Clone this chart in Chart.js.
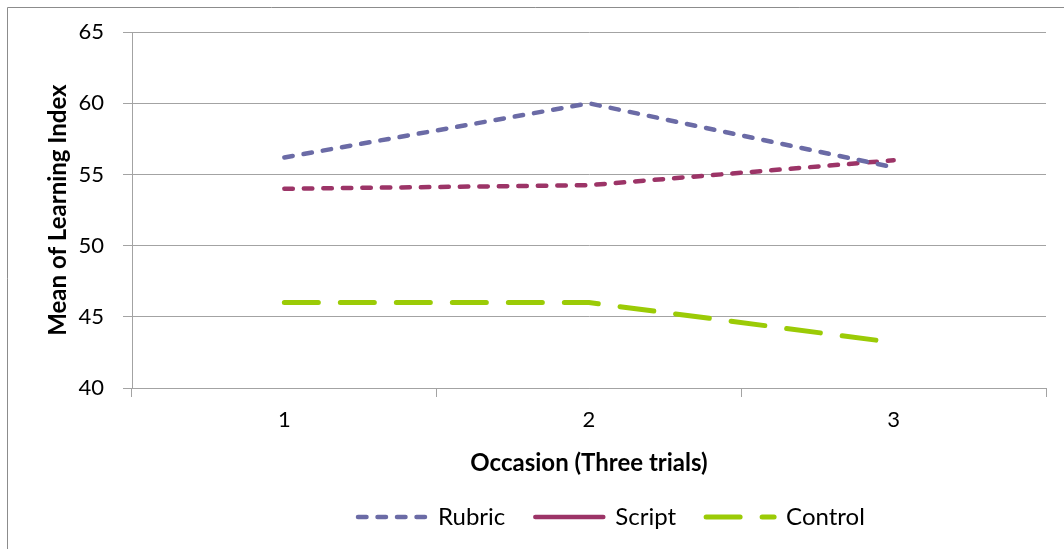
<!DOCTYPE html>
<html>
<head>
<meta charset="utf-8">
<script src="https://cdn.jsdelivr.net/npm/chart.js@4.4.1/dist/chart.umd.min.js"></script>
<style>
  html, body { margin: 0; padding: 0; background: #ffffff; }
  #wrap { width: 1064px; height: 549px; }
</style>
</head>
<body>
<div id="wrap"><canvas id="c" width="1064" height="549"></canvas></div>
<script>
// Mean learning index per occasion, one array per group
const occasions = ['1', '2', '3'];
const rubric = [56.2, 60.0, 55.5];
const script = [54.0, 54.25, 56.0];
const control = [46.0, 46.0, 43.2];
const yMin = 40, yMax = 65, yStep = 5;

const FONT = 'Lato, "Open Sans", "Liberation Sans", sans-serif';
const GRID = '#a3a3a3';

// White background and the thin panel frame along the top and left edges
const framePlugin = {
  id: 'frame',
  beforeDraw(chart) {
    const ctx = chart.ctx;
    ctx.save();
    ctx.fillStyle = '#ffffff';
    ctx.fillRect(0, 0, chart.width, chart.height);
    ctx.strokeStyle = '#8c8c8c';
    ctx.lineWidth = 1;
    ctx.beginPath();
    ctx.moveTo(7.5, chart.height);
    ctx.lineTo(7.5, 7.5);
    ctx.lineTo(chart.width, 7.5);
    ctx.stroke();
    ctx.restore();
  }
};

// The legend sits centred under the whole panel, which runs past the right edge
const legendPlacement = {
  id: 'legendPlacement',
  afterLayout(chart) {
    const lg = chart.legend;
    if (!lg) return;
    const w = lg.right - lg.left;
    lg.left = 328;
    lg.right = lg.left + w;
  }
};

new Chart(document.getElementById('c'), {
  type: 'line',
  data: {
    labels: occasions,
    datasets: [
      {
        label: 'Rubric',
        data: rubric,
        borderColor: '#6b6ba6',
        backgroundColor: '#6b6ba6',
        borderWidth: 4.5,
        borderDash: [8.5, 11],
        borderCapStyle: 'round',
        pointRadius: 0,
        tension: 0,
        fill: false
      },
      {
        label: 'Script',
        data: script,
        borderColor: '#9c3467',
        backgroundColor: '#9c3467',
        borderWidth: 4.5,
        borderDash: [8.5, 11],
        borderCapStyle: 'round',
        pointRadius: 0,
        tension: 0,
        fill: false
      },
      {
        label: 'Control',
        data: control,
        borderColor: '#9bcb06',
        backgroundColor: '#9bcb06',
        borderWidth: 5,
        borderDash: [34, 22],
        borderCapStyle: 'round',
        pointRadius: 0,
        tension: 0,
        fill: false
      }
    ]
  },
  options: {
    responsive: false,
    animation: false,
    events: [],
    layout: { padding: { top: 32, right: 18, bottom: 10, left: 0 } },
    plugins: {
      tooltip: { enabled: false },
      title: { display: false },
      legend: {
        display: true,
        position: 'bottom',
        align: 'start',
        labels: {
          usePointStyle: true,
          pointStyle: 'line',
          pointStyleWidth: 68,
          padding: 30,
          color: '#000000',
          font: { family: FONT, size: 24, lineHeight: 1.2 },
          generateLabels(chart) {
            const items = Chart.defaults.plugins.legend.labels.generateLabels(chart);
            items.forEach(item => {
              const ds = chart.data.datasets[item.datasetIndex];
              item.pointStyle = 'line';
              item.lineCap = 'round';
              item.lineWidth = ds.borderWidth;
              item.strokeStyle = ds.borderColor;
              // Script is keyed with a solid stroke
              item.lineDash = item.text === 'Script' ? [] : ds.borderDash;
            });
            return items;
          }
        }
      }
    },
    scales: {
      x: {
        type: 'category',
        offset: true,
        border: { display: true, color: GRID, width: 1 },
        grid: {
          offset: true,
          drawOnChartArea: false,
          drawTicks: true,
          tickLength: 9,
          color: GRID
        },
        ticks: {
          color: '#000000',
          padding: 10,
          font: { family: FONT, size: 22, lineHeight: 1.2 },
          maxRotation: 0
        },
        title: {
          display: true,
          text: 'Occasion (Three trials)',
          color: '#000000',
          font: { family: FONT, size: 24, weight: 'bold', lineHeight: 1.0 },
          padding: { top: 0, bottom: 0 }
        },
        afterFit(scale) { scale.height = 87; }
      },
      y: {
        min: yMin,
        max: yMax,
        border: { display: true, color: GRID, width: 1 },
        grid: {
          drawTicks: true,
          tickLength: 9,
          color: GRID,
          lineWidth: 1
        },
        ticks: {
          stepSize: yStep,
          color: '#000000',
          padding: 19,
          font: { family: FONT, size: 22, lineHeight: 1.2 }
        },
        title: {
          display: true,
          text: 'Mean of Learning Index',
          color: '#000000',
          font: { family: FONT, size: 24, weight: 'bold', lineHeight: 1.1 },
          padding: { top: 45, bottom: 0 }
        },
        afterFit(scale) { scale.width = 132; }
      }
    }
  },
  plugins: [framePlugin, legendPlacement]
});
</script>
</body>
</html>
